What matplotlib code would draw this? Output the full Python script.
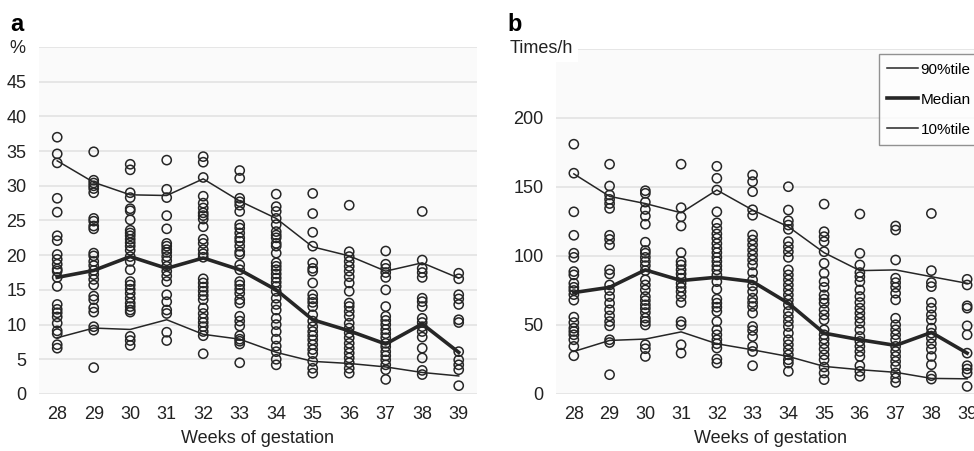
import numpy as np
import matplotlib
matplotlib.use('Agg')
import matplotlib.pyplot as plt

plt.rcParams['font.family'] = ['Liberation Sans', 'DejaVu Sans']

weeks = [28, 29, 30, 31, 32, 33, 34, 35, 36, 37, 38, 39]

# panel a : % per week (individual points)
pts_a = [
    [37.0, 34.6, 33.3, 28.2, 26.2, 22.8, 22.1, 20.1, 19.4, 18.7, 18.0, 17.7, 16.8, 15.5, 12.9, 12.2, 11.7, 11.1, 10.2, 9.1, 8.7, 7.1, 6.6],
    [34.9, 30.8, 30.4, 30.0, 29.6, 29.0, 25.3, 24.9, 24.2, 23.8, 20.3, 19.9, 19.1, 18.5, 17.8, 17.2, 16.5, 15.7, 14.1, 13.6, 12.4, 11.8, 9.7, 9.2, 3.8],
    [33.1, 32.3, 29.0, 28.3, 26.7, 26.4, 25.1, 23.6, 23.2, 22.8, 22.3, 21.8, 21.3, 20.7, 19.8, 19.1, 17.9, 16.2, 15.7, 15.1, 14.5, 13.8, 13.1, 12.6, 12.1, 11.8, 8.3, 7.7, 7.0],
    [33.7, 29.5, 28.3, 25.7, 23.8, 21.7, 21.3, 20.8, 20.4, 19.8, 19.2, 18.4, 17.7, 17.0, 16.2, 14.3, 13.3, 12.1, 11.6, 8.9, 7.7],
    [34.2, 33.4, 31.2, 28.5, 27.5, 26.8, 26.1, 25.7, 25.2, 24.1, 22.3, 21.7, 20.8, 20.2, 19.7, 16.6, 16.0, 15.4, 14.8, 14.2, 13.6, 12.4, 11.6, 10.9, 10.3, 9.7, 9.0, 8.4, 5.8],
    [32.2, 31.1, 28.2, 27.7, 27.2, 26.3, 24.4, 23.9, 23.2, 22.5, 22.0, 21.3, 20.5, 20.1, 18.6, 17.9, 16.2, 15.7, 15.1, 14.5, 13.6, 13.1, 11.2, 10.5, 9.8, 8.4, 7.9, 7.6, 7.2, 4.5],
    [28.8, 27.0, 26.3, 25.3, 24.4, 23.4, 22.9, 22.5, 21.7, 21.3, 20.3, 18.9, 18.4, 17.9, 17.3, 16.7, 16.1, 15.5, 14.8, 13.8, 12.9, 12.1, 10.9, 10.0, 9.0, 7.9, 6.9, 6.1, 5.0, 4.2],
    [28.9, 26.0, 23.3, 21.3, 18.9, 18.1, 17.7, 16.0, 14.3, 13.7, 13.2, 12.6, 11.4, 10.5, 9.7, 9.0, 8.4, 7.8, 7.1, 6.4, 5.8, 4.7, 3.7, 3.0],
    [27.2, 20.5, 19.8, 19.1, 18.4, 17.7, 16.9, 16.0, 14.8, 13.1, 12.6, 11.9, 11.2, 10.2, 9.5, 8.8, 8.1, 7.3, 6.6, 5.9, 5.2, 4.5, 3.7, 3.0],
    [20.6, 18.7, 18.1, 17.5, 16.8, 15.0, 12.6, 11.2, 10.6, 10.0, 9.3, 8.7, 8.1, 7.3, 6.8, 6.1, 5.5, 4.9, 4.2, 3.5, 2.1],
    [26.3, 19.3, 18.1, 17.5, 16.8, 13.8, 13.3, 12.6, 10.9, 10.3, 9.7, 9.0, 8.2, 6.6, 5.2, 3.4, 2.8],
    [17.4, 16.6, 14.3, 13.7, 12.9, 10.7, 10.3, 6.1, 4.9, 4.2, 3.5, 1.2],
]
p90_a = [33.6, 30.5, 28.7, 28.6, 31.0, 27.8, 25.3, 21.2, 19.9, 17.7, 18.9, 16.7]
med_a = [16.8, 17.8, 19.8, 18.1, 19.6, 17.9, 15.0, 10.7, 9.1, 7.2, 10.1, 6.0]
p10_a = [8.1, 9.5, 9.3, 10.7, 8.6, 7.9, 6.0, 4.7, 4.4, 3.9, 3.1, 2.6]

# panel b : times/h per week
pts_b = [
    [181, 160, 132, 115, 102, 99, 88.7, 86.3, 80.2, 77.3, 75, 72, 68, 55.7, 51.8, 47.7, 45.3, 42.9, 39.3, 34.5, 27.7],
    [166.5, 150.7, 144.2, 141, 138, 134.5, 115, 112, 108, 90, 87, 79, 75, 70.6, 65.8, 61, 56.6, 52.5, 49.4, 39.3, 37.3, 14],
    [147.3, 145.4, 139, 133.7, 128.9, 123, 110, 104, 102, 99, 96, 93, 89.4, 82.7, 79, 75.4, 70.6, 67.7, 64.6, 62, 59, 55, 52.5, 50, 35.7, 32.8, 27.2],
    [166.5, 135, 128.4, 121.7, 102.4, 96, 93.5, 90, 87, 83.9, 80.2, 77.3, 74.2, 70.6, 66.3, 52.5, 50, 35.7, 29.6],
    [165, 156.3, 147.8, 132, 124, 120, 116, 112.8, 109, 105.5, 102.4, 99, 96, 92.8, 89.9, 86.3, 81.4, 75.9, 68.7, 65.8, 62.9, 59.8, 52.5, 46.5, 42.9, 39.3, 36.4, 33.3, 25.3, 22.4],
    [158.7, 153.9, 146.6, 133.5, 129.5, 115.2, 111.6, 108, 104.3, 100.7, 97.1, 93.5, 88, 82.7, 78.3, 74.2, 69.4, 66.3, 63.4, 58.6, 48.9, 46, 41.7, 34.5, 30.8, 20.5],
    [150.2, 133.3, 125.5, 122.4, 119.3, 110.4, 106.7, 103.1, 99, 89.9, 86.3, 82.7, 79, 75.4, 71.8, 68.2, 64.6, 59.8, 56.1, 52.5, 48.9, 44.1, 39.3, 35.7, 32, 28.4, 24.8, 22.4, 16.4],
    [137.6, 117.6, 114, 110.4, 103.1, 94.7, 87.5, 81.4, 77.3, 71.8, 68.7, 65.8, 61, 57.3, 53.7, 46.5, 42.9, 39.8, 36.4, 32.5, 28.4, 24.8, 19.5, 15.2, 10.4],
    [130.4, 101.9, 93.5, 88, 85, 81.4, 75.4, 70.6, 66.3, 62.2, 58.6, 54.9, 51.3, 46.5, 41.7, 38.1, 34.5, 30.8, 27.2, 20.5, 16.4, 12.8],
    [121.7, 118.8, 97.1, 83.9, 80.7, 77.3, 73, 68.2, 54.9, 50.1, 46.5, 42.9, 39.3, 34.5, 30.8, 27.2, 23.6, 20, 15.2, 11.6, 8.4],
    [130.8, 89.4, 80.7, 77.8, 66.3, 62.2, 57.3, 53.7, 47.7, 44.1, 40.5, 36.4, 32.5, 27.2, 21.2, 13.3, 10.8],
    [83.1, 79, 63.9, 62.2, 49.4, 42.9, 29.6, 20.5, 18.1, 15.2, 5.5],
]
p90_b = [159.5, 143.2, 138, 131.3, 147.8, 133.3, 121.2, 102.4, 89.4, 89.9, 85, 80.2]
med_b = [73.5, 77.3, 89.9, 82.2, 84.6, 81.4, 65.8, 44.1, 39.3, 35.2, 44.6, 29.6]
p10_b = [30.8, 38.8, 39.8, 45, 36.4, 32, 27.2, 20, 17.6, 15.7, 11.3, 11]

fig = plt.figure(figsize=(9.74, 4.51), dpi=100)
ax1 = fig.add_axes([0.040, 0.1264, 0.4497, 0.7694])
ax2 = fig.add_axes([0.5708, 0.1264, 0.4405, 0.7650])

lc = '#262626'

def draw(ax, pts, p90, med, p10, ymax, yticks):
    ax.set_facecolor('#fafafa')
    for w, vals in zip(weeks, pts):
        ax.scatter([w] * len(vals), vals, s=44, facecolors='none',
                   edgecolors=lc, linewidths=1.1, zorder=2)
    ax.plot(weeks, p90, color=lc, lw=1.1, zorder=3, label='90%tile')
    ax.plot(weeks, med, color=lc, lw=2.6, zorder=3, label='Median')
    ax.plot(weeks, p10, color=lc, lw=1.1, zorder=3, label='10%tile')
    ax.set_xlim(27.5, 39.5)
    ax.set_ylim(0, ymax)
    ax.set_xticks(weeks)
    ax.set_yticks(yticks)
    for g in list(yticks) + [ymax]:
        ax.axhline(g, color='#e2e2e2', lw=1.2, zorder=1)
    for sp in ax.spines.values():
        sp.set_visible(False)
    ax.tick_params(length=0, labelsize=13, colors='#222222', pad=9)
    ax.set_xlabel('Weeks of gestation', fontsize=13, color='#222222', labelpad=5)

draw(ax1, pts_a, p90_a, med_a, p10_a, 50, range(0, 50, 5))
draw(ax2, pts_b, p90_b, med_b, p10_b, 250, range(0, 250, 50))

fig.text(0.011, 0.945, 'a', fontsize=17, fontweight='bold', va='center')
fig.text(0.010, 0.893, '%', fontsize=13, va='center', color='#222222')
fig.text(0.521, 0.945, 'b', fontsize=17, fontweight='bold', va='center')
fig.text(0.523, 0.893, 'Times/h', fontsize=13, va='center', color='#222222',
         bbox=dict(facecolor='white', edgecolor='none', pad=4), zorder=10)

leg = ax2.legend(loc='upper left', bbox_to_anchor=(0.752, 0.985), fontsize=11,
                 frameon=True, fancybox=False, edgecolor='#777777',
                 handlelength=2.0, handletextpad=0.2, labelspacing=1.05,
                 borderpad=0.55, borderaxespad=0)
leg.get_frame().set_linewidth(1.0)
leg.get_frame().set_facecolor('white')

fig.savefig('out.png', dpi=100)
